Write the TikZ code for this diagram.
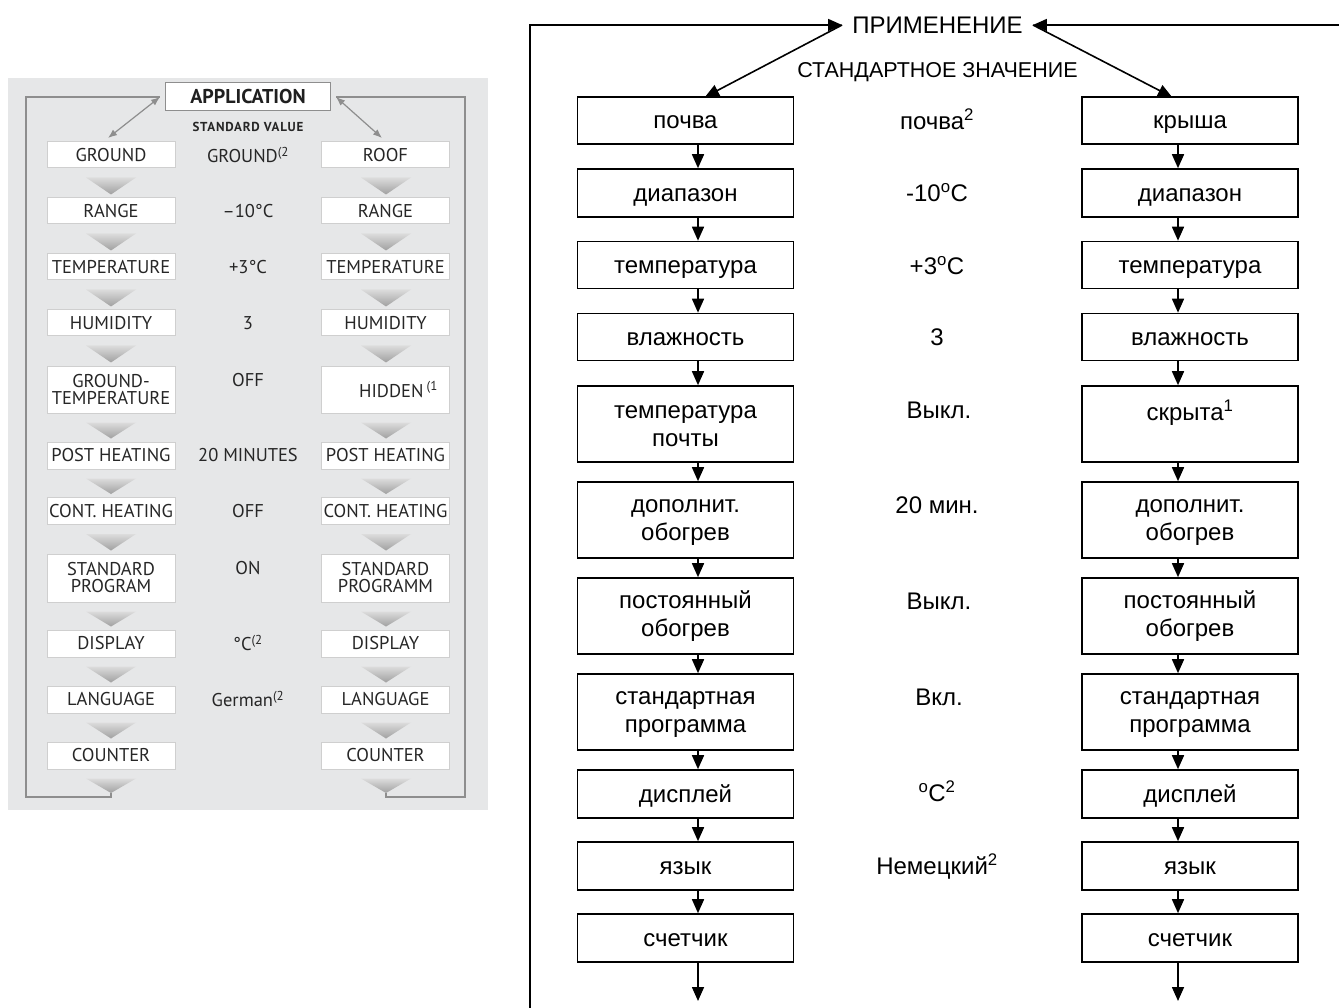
\documentclass[tikz,border=0pt]{standalone}
\usepackage{fontspec}
\setmainfont{Liberation Sans}
\newfontfamily\ptsans{PT Sans}
\newfontfamily\ptsansstd{PT Sans}[LetterSpace=6]
\usetikzlibrary{arrows.meta,calc}
\definecolor{panelbg}{HTML}{E6E7E8}
\definecolor{framec}{HTML}{8E8E8E}
\definecolor{eboxc}{HTML}{CFCFCF}
\definecolor{etext}{HTML}{262626}
\definecolor{chevtop}{HTML}{DCDCDC}
\definecolor{chevbot}{HTML}{A0A0A0}
\newcommand\rfont{\fontsize{24}{28}\selectfont}
\newcommand\efont{\ptsans\fontsize{18.5}{17}\selectfont}
\newcommand\up{\rule{0pt}{18pt}}
\newcommand\chev[3]{%
  \path (#1.south -| #3) coordinate (cvA) (#2.north -| #3) coordinate (cvB);
  \shade[top color=chevtop,bottom color=chevbot] ($(cvA)+(-25,9)$) -- ($(cvA)+(25,9)$) -- ($(cvB)+(0,-3)$) -- cycle;}
\begin{document}
\begin{tikzpicture}[x=1pt,y=-1pt,
  rb/.style={draw=black,line width=1.6pt,fill=white,minimum width=216pt,inner sep=0pt,align=center,font=\rfont},
  rb1/.style={rb,text height=17pt,text depth=0pt},
  rv/.style={font=\rfont,inner sep=0pt,text height=17pt,text depth=0pt},
  rarr/.style={draw=black,line width=1.6pt,-{Triangle[length=14pt,width=12pt]}},
  eb/.style={draw=eboxc,line width=1pt,fill=white,minimum width=128pt,inner sep=0pt,align=center,font=\efont,text=etext},
  ev/.style={font=\efont,text=etext,inner sep=0pt},
  fr/.style={draw=framec,line width=1.5pt},
  farr/.style={draw=framec,line width=1.2pt,{Latex[length=9pt,width=7pt]}-{Latex[length=9pt,width=7pt]}},
]
\useasboundingbox (0,0) rectangle (1339,1008);
\fill[white] (0,0) rectangle (1339,1008);

% ---------------- left (English) panel ----------------
\fill[panelbg] (8,78) rectangle (488,810);
\coordinate (exl) at (111,0);
\coordinate (exr) at (386,0);
\node[draw=framec,line width=1.5pt,fill=white,minimum width=165pt,minimum height=28pt,inner sep=0pt,
      font=\ptsans\bfseries\fontsize{20}{20}\selectfont,text=black!88] (eapp) at (248,96.5) {APPLICATION};
\node[font=\ptsansstd\bfseries\fontsize{13}{13}\selectfont,text=etext] (estd) at (248,127) {STANDARD VALUE};

\node[eb,minimum height=26pt] (eL1) at (111,155) {GROUND};
\node[eb,minimum height=26pt] (eL2) at (111,211) {RANGE};
\node[eb,minimum height=26pt] (eL3) at (111,267) {TEMPERATURE};
\node[eb,minimum height=26pt] (eL4) at (111,323) {HUMIDITY};
\node[eb,minimum height=47pt] (eL5) at (111,389.5) {GROUND-\\TEMPERATURE};
\node[eb,minimum height=27pt] (eL6) at (111,455.5) {POST HEATING};
\node[eb,minimum height=27pt] (eL7) at (111,511) {CONT. HEATING};
\node[eb,minimum height=48pt] (eL8) at (111,578) {STANDARD\\PROGRAM};
\node[eb,minimum height=27pt] (eL9) at (111,643.5) {DISPLAY};
\node[eb,minimum height=27pt] (eL10) at (111,699.5) {LANGUAGE};
\node[eb,minimum height=27pt] (eL11) at (111,755.5) {COUNTER};

\node[eb,minimum height=26pt] (eR1) at (385.5,155) {ROOF};
\node[eb,minimum height=26pt] (eR2) at (385.5,211) {RANGE};
\node[eb,minimum height=26pt] (eR3) at (385.5,267) {TEMPERATURE};
\node[eb,minimum height=26pt] (eR4) at (385.5,323) {HUMIDITY};
\node[eb,minimum height=47pt] (eR5) at (385.5,389.5) {\hspace*{26pt}HIDDEN\,\textsuperscript{(1}};
\node[eb,minimum height=27pt] (eR6) at (385.5,455.5) {POST HEATING};
\node[eb,minimum height=27pt] (eR7) at (385.5,511) {CONT. HEATING};
\node[eb,minimum height=48pt] (eR8) at (385.5,578) {STANDARD\\PROGRAMM};
\node[eb,minimum height=27pt] (eR9) at (385.5,643.5) {DISPLAY};
\node[eb,minimum height=27pt] (eR10) at (385.5,699.5) {LANGUAGE};
\node[eb,minimum height=27pt] (eR11) at (385.5,755.5) {COUNTER};

\node[ev] (eV1) at (248,155) {GROUND\textsuperscript{(2}};
\node[ev] (eV2) at (248,211) {–10°C};
\node[ev] (eV3) at (248,267) {+3°C};
\node[ev] (eV4) at (248,323) {3};
\node[ev] (eV5) at (248,380) {OFF};
\node[ev] (eV6) at (248,455) {20 MINUTES};
\node[ev] (eV7) at (248,511) {OFF};
\node[ev] (eV8) at (248,568) {ON};
\node[ev] (eV9) at (248,643) {°C\textsuperscript{(2}};
\node[ev] (eV10) at (248,699) {German\textsuperscript{(2}};

\foreach \a/\b in {1/2,2/3,3/4,4/5,5/6,6/7,7/8,8/9,9/10,10/11}{
  \chev{eL\a}{eL\b}{exl}
  \chev{eR\a}{eR\b}{exr}
}
\coordinate (eLend) at (111,793);
\coordinate (eRend) at (386,793);
\shade[top color=chevtop,bottom color=chevbot] ($(eL11.south -| exl)+(-25,9)$) -- ($(eL11.south -| exl)+(25,9)$) -- (eLend) -- cycle;
\shade[top color=chevtop,bottom color=chevbot] ($(eR11.south -| exr)+(-25,9)$) -- ($(eR11.south -| exr)+(25,9)$) -- (eRend) -- cycle;

\coordinate (ebl1) at (111,797);
\coordinate (ebl) at (26,797);
\coordinate (etl) at (26,97);
\coordinate (ehl) at (160,97);
\coordinate (edl) at (108,138);
\coordinate (ebr1) at (386,797);
\coordinate (ebr) at (465,797);
\coordinate (etr) at (465,97);
\coordinate (ehr) at (336,97);
\coordinate (edr) at (382,138);
\draw[fr] (eLend) -- (ebl1) -- (ebl) -- (etl) -- (ehl);
\draw[fr] (eRend) -- (ebr1) -- (ebr) -- (etr) -- (ehr);
\draw[farr] (ehl) -- (edl);
\draw[farr] (ehr) -- (edr);

% ---------------- right (Russian) chart ----------------
\node[font=\fontsize{24}{24}\selectfont,inner xsep=10pt,inner ysep=2pt] (app) at (937.5,25) {ПРИМЕНЕНИЕ};
\node[font=\fontsize{21.5}{21.5}\selectfont,inner sep=0pt] (std) at (937.5,72) {СТАНДАРТНОЕ ЗНАЧЕНИЕ};

\node[rb1,minimum height=47pt] (rL1) at (685.5,120.5) {почва};
\node[rb1,minimum height=48pt] (rL2) at (685.5,193) {диапазон};
\node[rb1,minimum height=47pt] (rL3) at (685.5,265) {температура};
\node[rb1,minimum height=47pt] (rL4) at (685.5,337) {влажность};
\node[rb,minimum height=76pt] (rL5) at (685.5,424) {\up температура\\почты};
\node[rb,minimum height=76pt] (rL6) at (685.5,520) {\up дополнит.\\обогрев};
\node[rb,minimum height=76pt] (rL7) at (685.5,616) {\up постоянный\\обогрев};
\node[rb,minimum height=76pt] (rL8) at (685.5,712) {\up стандартная\\программа};
\node[rb1,minimum height=48pt] (rL9) at (685.5,794) {дисплей};
\node[rb1,minimum height=48pt] (rL10) at (685.5,866) {язык};
\node[rb1,minimum height=48pt] (rL11) at (685.5,938) {счетчик};

\node[rb1,minimum height=47pt] (rR1) at (1190,120.5) {крыша};
\node[rb1,minimum height=48pt] (rR2) at (1190,193) {диапазон};
\node[rb1,minimum height=47pt] (rR3) at (1190,265) {температура};
\node[rb1,minimum height=47pt] (rR4) at (1190,337) {влажность};
\node[rb,minimum height=76pt] (rR5) at (1190,424) {скрыта\textsuperscript{1}\\\mbox{}};
\node[rb,minimum height=76pt] (rR6) at (1190,520) {\up дополнит.\\обогрев};
\node[rb,minimum height=76pt] (rR7) at (1190,616) {\up постоянный\\обогрев};
\node[rb,minimum height=76pt] (rR8) at (1190,712) {\up стандартная\\программа};
\node[rb1,minimum height=48pt] (rR9) at (1190,794) {дисплей};
\node[rb1,minimum height=48pt] (rR10) at (1190,866) {язык};
\node[rb1,minimum height=48pt] (rR11) at (1190,938) {счетчик};

\node[rv] (rV1) at (937,121) {почва\textsuperscript{2}};
\node[rv] (rV2) at (937,193) {-10\textsuperscript{o}C};
\node[rv] (rV3) at (937,266) {+3\textsuperscript{o}C};
\node[rv] (rV4) at (937,337) {3};
\node[rv] (rV5) at (939,410) {Выкл.};
\node[rv] (rV6) at (937,505) {20 мин.};
\node[rv] (rV7) at (939,601) {Выкл.};
\node[rv] (rV8) at (939,697) {Вкл.};
\node[rv] (rV9) at (937,793) {\textsuperscript{o}C\textsuperscript{2}};
\node[rv] (rV10) at (937,866) {Немецкий\textsuperscript{2}};

\coordinate (rlx) at (698,0);
\coordinate (rrx) at (1178,0);
\foreach \a/\b in {1/2,2/3,3/4,4/5,5/6,6/7,7/8,8/9,9/10,10/11}{
  \draw[rarr] (rL\a.south -| rlx) -- (rL\b.north -| rlx);
  \draw[rarr] (rR\a.south -| rrx) -- (rR\b.north -| rrx);
}
\coordinate (rLend) at (698,1001);
\coordinate (rRend) at (1178,1001);
\draw[rarr] (rL11.south -| rlx) -- (rLend);
\draw[rarr] (rR11.south -| rrx) -- (rRend);

\coordinate (rtl) at (530,25);
\coordinate (rbl) at (530,1008);
\coordinate (rtr) at (1339,25);
\coordinate (dl) at (705,97);
\coordinate (dr) at (1172,97);
\draw[rarr] (rbl) -- (rtl) -- (app.west);
\draw[rarr] (rtr) -- (app.east);
\draw[rarr] (app.west) -- (dl);
\draw[rarr] (app.east) -- (dr);
\end{tikzpicture}
\end{document}
